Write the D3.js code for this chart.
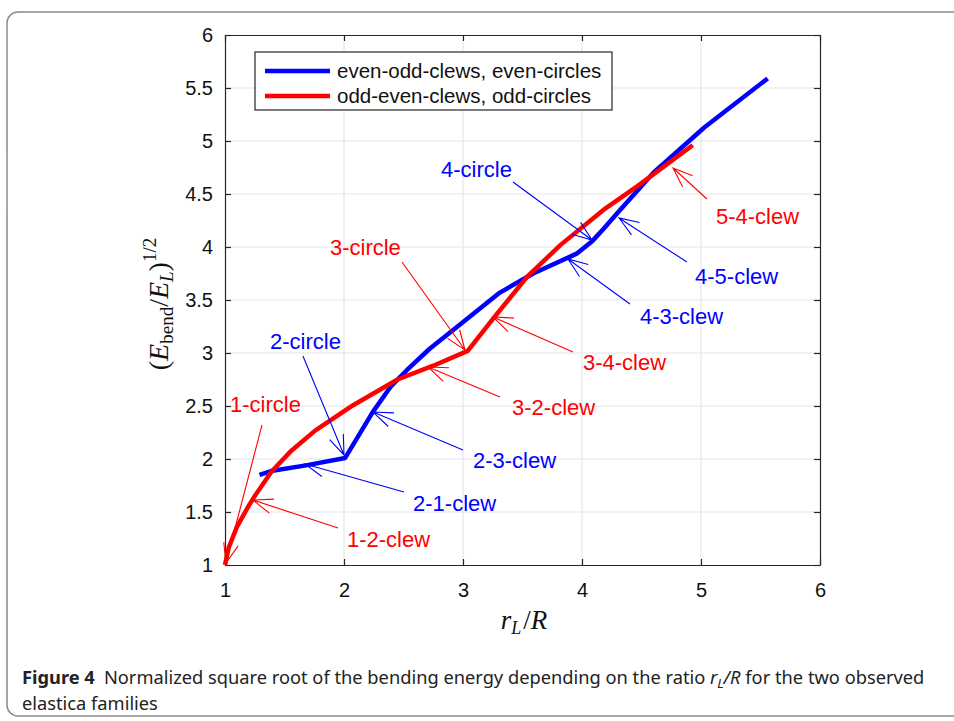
<!DOCTYPE html>
<html>
<head>
<meta charset="utf-8">
<script src="https://cdn.jsdelivr.net/npm/d3@7"></script>
<style>
body { margin: 0; background: #fff; }
text { font-family: "Liberation Sans", Arial, sans-serif; }
</style>
</head>
<body>
<svg id="chart" width="954" height="721"></svg>
<script>
// curves
var blueX = [1.29, 1.40, 1.68, 2.01, 2.24, 2.39, 2.53, 2.72, 2.92, 3.31, 3.59, 3.96, 4.09, 4.18, 4.32, 4.60, 5.03, 5.56];
var blueY = [1.85, 1.89, 1.94, 2.01, 2.44, 2.68, 2.84, 3.04, 3.22, 3.57, 3.75, 3.94, 4.06, 4.17, 4.35, 4.70, 5.13, 5.59];
var redX = [1.00, 1.03, 1.10, 1.20, 1.25, 1.39, 1.55, 1.76, 2.08, 2.45, 2.75, 3.04, 3.25, 3.54, 3.82, 4.18, 4.46, 4.93];
var redY = [1.00, 1.16, 1.36, 1.56, 1.65, 1.88, 2.07, 2.27, 2.51, 2.75, 2.88, 3.02, 3.32, 3.72, 4.02, 4.35, 4.57, 4.96];

var xTicks = [1, 2, 3, 4, 5, 6];
var yTicks = [1, 1.5, 2, 2.5, 3, 3.5, 4, 4.5, 5, 5.5, 6];
var legendLabels = ["even-odd-clews, even-circles", "odd-even-clews, odd-circles"];

// annotations: label, which family, text position, arrow start, arrow tip (data units)
var noteLabels = ["1-circle", "1-2-clew", "2-circle", "2-1-clew", "2-3-clew", "3-circle", "3-2-clew", "3-4-clew", "4-circle", "4-3-clew", "4-5-clew", "5-4-clew"];
var noteSeries = ["odd", "odd", "even", "even", "even", "odd", "odd", "odd", "even", "even", "even", "odd"];
var noteTextX = [1.042, 2.025, 1.378, 2.580, 3.084, 1.882, 3.412, 4.008, 2.815, 4.487, 4.950, 5.126];
var noteTextY = [2.519, 1.245, 3.113, 1.585, 1.991, 4.000, 2.491, 2.915, 4.736, 3.349, 3.726, 4.292];
var noteFromX = [1.311, 1.950, 1.655, 2.504, 3.000, 2.487, 3.311, 3.924, 3.420, 4.403, 4.882, 5.050];
var noteFromY = [2.321, 1.349, 2.972, 1.689, 2.085, 3.858, 2.585, 3.009, 4.613, 3.462, 3.858, 4.453];
var noteToX = [1.008, 1.235, 2.000, 1.672, 2.244, 3.017, 2.706, 3.252, 4.084, 3.882, 4.311, 4.765];
var noteToY = [1.019, 1.613, 2.038, 1.953, 2.443, 3.028, 2.868, 3.340, 4.066, 3.887, 4.274, 4.745];

var color = d3.scaleOrdinal()
  .domain(["even", "odd"])
  .range(["#0000ff", "#ff0000"]);

var x = d3.scaleLinear().domain([1, 6]).range([225, 820]);
var y = d3.scaleLinear().domain([1, 6]).range([565, 35]);

var svg = d3.select("#chart");

svg.append("rect")
  .attr("width", 954)
  .attr("height", 721)
  .style("fill", "#fff");

// outer figure frame
svg.append("rect")
  .attr("x", 7)
  .attr("y", 12)
  .attr("width", 1000)
  .attr("height", 704)
  .attr("rx", 11)
  .style("fill", "none")
  .style("stroke", "#8a8a8a")
  .style("stroke-width", 1.5);

// grid
svg.append("g").selectAll("line")
  .data(xTicks.slice(1, -1))
  .enter().append("line")
  .attr("x1", function(d) { return x(d); })
  .attr("x2", function(d) { return x(d); })
  .attr("y1", y(1))
  .attr("y2", y(6))
  .style("stroke", "#e6e6e6")
  .style("stroke-width", 1.2);

svg.append("g").selectAll("line")
  .data(yTicks.slice(1, -1))
  .enter().append("line")
  .attr("y1", function(d) { return y(d); })
  .attr("y2", function(d) { return y(d); })
  .attr("x1", x(1))
  .attr("x2", x(6))
  .style("stroke", "#e6e6e6")
  .style("stroke-width", 1.2);

// axes, ticks pointing inward like matlab
var fmt = d3.format("~g");
var xAxis = d3.axisBottom(x).tickValues(xTicks).tickSizeInner(-6).tickSizeOuter(0).tickPadding(18).tickFormat(fmt);
var yAxis = d3.axisLeft(y).tickValues(yTicks).tickSizeInner(-6).tickSizeOuter(0).tickPadding(12).tickFormat(fmt);

svg.append("g")
  .attr("class", "x axis")
  .attr("transform", "translate(0," + y(1) + ")")
  .call(xAxis);

svg.append("g")
  .attr("class", "y axis")
  .attr("transform", "translate(" + x(1) + ",0)")
  .call(yAxis);

svg.append("g")
  .attr("transform", "translate(0," + y(6) + ")")
  .call(d3.axisTop(x).tickValues(xTicks).tickSizeInner(-6).tickSizeOuter(0).tickFormat(""));

svg.append("g")
  .attr("transform", "translate(" + x(6) + ",0)")
  .call(d3.axisRight(y).tickValues(yTicks).tickSizeInner(-6).tickSizeOuter(0).tickFormat(""));

svg.selectAll(".domain, .tick line")
  .style("stroke", "#262626")
  .style("stroke-width", 1.2);

svg.selectAll(".axis text")
  .style("font-size", "20px")
  .style("fill", "#111");

// curves
var line = d3.line()
  .x(function(d) { return x(d[0]); })
  .y(function(d) { return y(d[1]); });

var curves = [
  { name: "even", pts: d3.zip(blueX, blueY) },
  { name: "odd", pts: d3.zip(redX, redY) }
];

svg.append("g").selectAll("path")
  .data(curves)
  .enter().append("path")
  .attr("d", function(d) { return line(d.pts); })
  .style("fill", "none")
  .style("stroke", function(d) { return color(d.name); })
  .style("stroke-width", 4.5)
  .style("stroke-linejoin", "round");

// annotation arrows
var notes = noteLabels.map(function(t, i) {
  return {
    label: t, s: noteSeries[i],
    tx: x(noteTextX[i]), ty: y(noteTextY[i]),
    x1: x(noteFromX[i]), y1: y(noteFromY[i]),
    x2: x(noteToX[i]), y2: y(noteToY[i])
  };
});

var note = svg.append("g").selectAll(".note")
  .data(notes)
  .enter().append("g")
  .attr("class", "note");

note.append("path")
  .attr("d", function(d) {
    var a = Math.atan2(d.y1 - d.y2, d.x1 - d.x2);
    var len = 21, sp = 0.36;
    var p = "M" + d.x1 + "," + d.y1 + "L" + d.x2 + "," + d.y2;
    p += "M" + (d.x2 + len * Math.cos(a + sp)) + "," + (d.y2 + len * Math.sin(a + sp));
    p += "L" + d.x2 + "," + d.y2;
    p += "L" + (d.x2 + len * Math.cos(a - sp)) + "," + (d.y2 + len * Math.sin(a - sp));
    return p;
  })
  .style("fill", "none")
  .style("stroke", function(d) { return color(d.s); })
  .style("stroke-width", 1.1);

note.append("text")
  .attr("x", function(d) { return d.tx; })
  .attr("y", function(d) { return d.ty; })
  .attr("dy", ".35em")
  .style("font-size", "22px")
  .style("fill", function(d) { return color(d.s); })
  .text(function(d) { return d.label; });

// legend
var legend = svg.append("g");

legend.append("rect")
  .attr("x", 255)
  .attr("y", 52)
  .attr("width", 357)
  .attr("height", 58)
  .style("fill", "#fff")
  .style("stroke", "#262626")
  .style("stroke-width", 1.2);

var item = legend.selectAll(".legend")
  .data(legendLabels)
  .enter().append("g")
  .attr("class", "legend")
  .attr("transform", function(d, i) { return "translate(0," + (71 + i * 25) + ")"; });

item.append("line")
  .attr("x1", 265)
  .attr("x2", 330)
  .style("stroke", function(d, i) { return color(color.domain()[i]); })
  .style("stroke-width", 4.5);

item.append("text")
  .attr("x", 337)
  .attr("dy", ".35em")
  .style("font-size", "20.5px")
  .style("fill", "#111")
  .text(function(d) { return d; });

// axis labels (latex-ish)
var serif = '"Liberation Serif", "Times New Roman", serif';

var xl = svg.append("text")
  .attr("x", 524)
  .attr("y", 629)
  .style("font-family", serif)
  .style("font-size", "27px")
  .style("text-anchor", "middle")
  .style("fill", "#111");
xl.append("tspan").style("font-style", "italic").text("r");
xl.append("tspan").style("font-style", "italic").style("font-size", "18px").attr("dy", 5).text("L");
xl.append("tspan").attr("dx", 2).attr("dy", -5).text("/");
xl.append("tspan").style("font-style", "italic").text("R");

var yl = svg.append("text")
  .attr("transform", "translate(168,304) rotate(-90)")
  .style("font-family", serif)
  .style("font-size", "28px")
  .style("text-anchor", "middle")
  .style("fill", "#111");
yl.append("tspan").text("(");
yl.append("tspan").style("font-style", "italic").text("E");
yl.append("tspan").style("font-size", "19px").attr("dy", 5).text("bend");
yl.append("tspan").attr("dy", -5).text("/");
yl.append("tspan").style("font-style", "italic").text("E");
yl.append("tspan").style("font-style", "italic").style("font-size", "19px").attr("dy", 5).text("L");
yl.append("tspan").attr("dy", -5).text(")");
yl.append("tspan").style("font-size", "19px").attr("dy", -12).text("1/2");

// caption
var cap = svg.append("g");
var c1 = cap.append("text")
  .attr("x", 0)
  .attr("y", 684)
  .style("font-family", '"Noto Sans", sans-serif')
  .style("font-size", "18px")
  .style("fill", "#222");
c1.append("tspan").style("font-weight", "bold").text("Figure 4");
c1.append("tspan").text("\u2002Normalized square root of the bending energy depending on the ratio ");
c1.append("tspan").style("font-style", "italic").text("r");
c1.append("tspan").style("font-style", "italic").style("font-size", "13px").attr("dy", 4).text("L");
c1.append("tspan").style("font-style", "italic").attr("dy", -4).text("/R");
c1.append("tspan").text(" for the two observed");

cap.append("text")
  .attr("x", 0)
  .attr("y", 710)
  .style("font-family", '"Noto Sans", sans-serif')
  .style("font-size", "18px")
  .style("fill", "#222")
  .text("elastica families");

var w = c1.node().getComputedTextLength();
cap.attr("transform", "translate(22,0) scale(" + (903 / w) + ",1)");
</script>
</body>
</html>
